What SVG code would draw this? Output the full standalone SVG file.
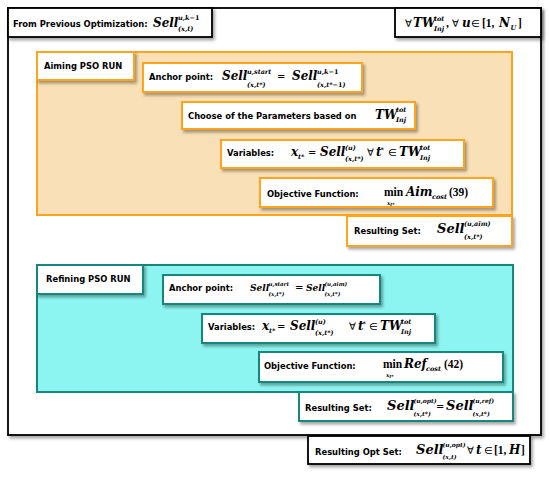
<svg xmlns="http://www.w3.org/2000/svg" width="550" height="477" viewBox="0 0 550 477">
<defs>
<filter id="sh" x="-10%" y="-20%" width="125%" height="160%"><feDropShadow dx="2" dy="2.5" stdDeviation="1.5" flood-color="#000" flood-opacity="0.35"/></filter>
<style>
.bk{fill:#fff;stroke:#000;stroke-width:1.8;filter:url(#sh)}
.ob{fill:#fff;stroke:#FFA41B;stroke-width:2;filter:url(#sh)}
.tb{fill:#fff;stroke:#17877B;stroke-width:2;filter:url(#sh)}
.t{font-family:"DejaVu Sans",Verdana,sans-serif;font-weight:bold;font-size:8.4px;fill:#000}
.m{font-family:"DejaVu Serif",serif;font-style:italic;font-weight:bold;font-size:12px;fill:#000}
.mm{font-family:"DejaVu Serif",serif;font-style:italic;font-weight:bold;font-size:9px;fill:#000}
.ml{font-family:"DejaVu Serif",serif;font-style:italic;font-weight:bold;font-size:13px;fill:#000}
.s{font-family:"DejaVu Serif",serif;font-style:italic;font-weight:bold;font-size:6.5px;fill:#000}
.s6{font-family:"DejaVu Serif",serif;font-style:italic;font-weight:bold;font-size:6px;fill:#000}
.ss{font-family:"DejaVu Serif",serif;font-style:italic;font-weight:bold;font-size:5.5px;fill:#000}
.r{font-family:"Liberation Serif",serif;font-weight:bold;font-size:11.5px;fill:#000}
.o{font-family:"DejaVu Sans",sans-serif;font-size:10px;fill:#000}
.up{font-style:normal}
</style>
</defs>
<g id="connectors"/>

<g id="outer-frame"><rect class="bk" x="8" y="8" width="533" height="427"/></g>

<g id="from-previous">
<rect class="bk" x="8" y="8" width="204" height="29"/>
<text class="t" x="13" y="27">From Previous Optimization:</text>
<text class="m" x="153" y="27">Sell</text>
<text class="s" x="178" y="19.5">u,k−<tspan class="up">1</tspan></text>
<text class="s" x="178" y="31">(x,t)</text>
</g>

<g id="forall-box">
<rect class="bk" x="395" y="8" width="146" height="29"/>
<text class="o" x="405" y="27">∀</text>
<text class="m" x="413" y="27">TW</text>
<text class="s" x="434" y="21">tot</text>
<text class="s" x="434" y="30.5">Inj</text>
<text class="r" x="446" y="27">,</text>
<text class="o" x="452" y="27">∀</text>
<text class="m" x="462" y="27">u</text>
<text class="o" x="471" y="27">∈</text>
<text class="r" x="482" y="27">[1,</text>
<text class="m" x="499" y="27">N</text>
<text class="s" x="510.5" y="30">U</text>
<text class="r" x="518" y="27">]</text>
</g>

<g id="aiming-region">
<rect x="37" y="52" width="475" height="163" fill="#F9E0B6" stroke="#FFA41B" stroke-width="2"/>
</g>

<g id="aiming-label">
<rect class="ob" x="37" y="52" width="97" height="28"/>
<text class="t" x="44" y="69">Aiming PSO RUN</text>
</g>

<g id="aim-anchor">
<rect class="ob" x="143" y="63" width="219" height="29"/>
<text class="t" x="149" y="80">Anchor point:</text>
<text class="m" x="222" y="80">Sell</text>
<text class="s" x="247" y="74">u,start</text>
<text class="s" x="247" y="86.5">(x,t*)</text>
<text class="o" x="277" y="80">=</text>
<text class="m" x="292" y="80">Sell</text>
<text class="s" x="317" y="74">u,k−<tspan class="up">1</tspan></text>
<text class="s" x="317" y="86.5">(x,t*−<tspan class="up">1</tspan>)</text>
</g>

<g id="aim-choose">
<rect class="ob" x="182" y="102" width="233" height="27"/>
<text class="t" x="188" y="118.5">Choose of the Parameters based on</text>
<text class="m" x="375" y="118.5">TW</text>
<text class="s" x="396" y="112">tot</text>
<text class="s" x="396" y="122">Inj</text>
</g>

<g id="aim-variables">
<rect class="ob" x="221" y="140" width="243" height="28"/>
<text class="t" x="227" y="156">Variables:</text>
<text class="m" x="291" y="156">x</text>
<text class="s" x="298" y="159">t*</text>
<text class="o" x="308" y="156">=</text>
<text class="m" x="320" y="156">Sell</text>
<text class="s" x="345" y="150">(u)</text>
<text class="s" x="345" y="160.5">(x,t*)</text>
<text class="o" x="367" y="156">∀</text>
<text class="m" x="376" y="156">t</text>
<text class="s" x="380.5" y="152">*</text>
<text class="o" x="388" y="156">∈</text>
<text class="m" x="399" y="156">TW</text>
<text class="s" x="420" y="150">tot</text>
<text class="s" x="420" y="160">Inj</text>
</g>

<g id="aim-objective">
<rect class="ob" x="260" y="178" width="233" height="29"/>
<text class="t" x="267" y="197">Objective Function:</text>
<text class="r" x="384" y="196">min</text>
<text class="ss" x="387" y="204.5">x<tspan dy="1.5" font-size="4.5">t*</tspan></text>
<text class="m" x="406" y="196" font-size="11">Aim</text>
<text class="s" x="432" y="199">cost</text>
<text class="r" x="449" y="196">(39)</text>
</g>

<g id="aim-result">
<rect class="ob" x="347" y="216" width="165" height="30"/>
<text class="t" x="354" y="234">Resulting Set:</text>
<text class="ml" x="437" y="233">Sell</text>
<text class="s" x="464" y="226">(u,aim)</text>
<text class="s" x="464" y="239">(x,t*)</text>
</g>

<g id="refining-region">
<rect x="37" y="265" width="476" height="127" fill="#8DF5F1" stroke="#17877B" stroke-width="2"/>
</g>

<g id="refining-label">
<rect class="tb" x="37" y="265" width="106" height="29"/>
<text class="t" x="46" y="282">Refining PSO RUN</text>
</g>

<g id="ref-anchor">
<rect class="tb" x="163" y="275" width="217" height="29"/>
<text class="t" x="169" y="291">Anchor point:</text>
<text class="mm" x="250" y="291">Sell</text>
<text class="ss" x="268.5" y="286">u,start</text>
<text class="ss" x="268.5" y="295.5">(x,t*)</text>
<text class="o" x="295" y="291" font-size="8">=</text>
<text class="mm" x="306" y="291">Sell</text>
<text class="ss" x="324.5" y="286">(u,aim)</text>
<text class="ss" x="324.5" y="295.5">(x,t*)</text>
</g>

<g id="ref-variables">
<rect class="tb" x="202" y="314" width="233" height="29"/>
<text class="t" x="208" y="330">Variables:</text>
<text class="m" x="262" y="330">x</text>
<text class="s" x="269" y="333">t*</text>
<text class="o" x="277" y="330">=</text>
<text class="m" x="290" y="330">Sell</text>
<text class="s" x="315" y="324">(u)</text>
<text class="s" x="315" y="334.5">(x,t*)</text>
<text class="o" x="349" y="330">∀</text>
<text class="m" x="358" y="330">t</text>
<text class="s" x="362.5" y="326">*</text>
<text class="o" x="369" y="330">∈</text>
<text class="m" x="380" y="330">TW</text>
<text class="s" x="401" y="324">tot</text>
<text class="s" x="401" y="334">Inj</text>
</g>

<g id="ref-objective">
<rect class="tb" x="259" y="352" width="244" height="30"/>
<text class="t" x="264" y="369">Objective Function:</text>
<text class="r" x="383" y="368">min</text>
<text class="ss" x="386" y="376.5">x<tspan dy="1.5" font-size="4.5">t*</tspan></text>
<text class="m" x="404" y="368">Ref</text>
<text class="s" x="426" y="371">cost</text>
<text class="r" x="444" y="368" font-size="12">(42)</text>
</g>

<g id="ref-result">
<rect class="tb" x="299" y="392" width="214" height="29"/>
<text class="t" x="305" y="411">Resulting Set:</text>
<text class="ml" x="387" y="410">Sell</text>
<text class="s6" x="413.5" y="403">(u,opt)</text>
<text class="s6" x="413.5" y="415.5">(x,t*)</text>
<text class="o" x="436" y="410">=</text>
<text class="ml" x="446" y="410">Sell</text>
<text class="s6" x="472.5" y="403">(u,ref)</text>
<text class="s6" x="472.5" y="415.5">(x,t*)</text>
</g>

<g id="result-opt">
<rect class="bk" x="308" y="436" width="222" height="28"/>
<text class="t" x="315" y="455">Resulting Opt Set:</text>
<text class="ml" x="416" y="454">Sell</text>
<text class="s6" x="442.5" y="447">(u,opt)</text>
<text class="s6" x="442.5" y="459">(x,t)</text>
<text class="o" x="467" y="454">∀</text>
<text class="m" x="476" y="454">t</text>
<text class="o" x="484" y="454">∈</text>
<text class="r" x="494" y="454">[1,</text>
<text class="m" x="509" y="454">H</text>
<text class="r" x="521" y="454">]</text>
</g>
</svg>
